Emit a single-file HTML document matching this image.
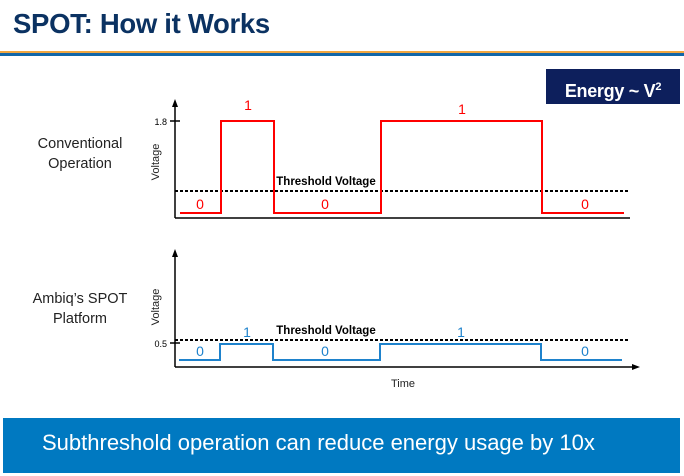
<!DOCTYPE html>
<html><head><style>
body{margin:0;width:684px;height:476px;background:#fff;overflow:hidden;position:relative;font-family:"Liberation Sans",sans-serif}
.t{position:absolute}
</style></head><body>
<div class="t" style="left:13px;top:8px;font-size:27.5px;font-weight:bold;color:#0b3262;letter-spacing:-0.3px">SPOT: How it Works</div>
<div class="t" style="left:0;top:51px;width:684px;height:2px;background:#f0a640"></div>
<div class="t" style="left:0;top:53px;width:684px;height:3px;background:#1166a8"></div>
<div class="t" style="left:546px;top:69px;width:134px;height:35px;background:#0d1f5c;color:#fff;font-size:18px;font-weight:bold;line-height:37px;text-align:center;letter-spacing:-0.3px">Energy ~ V<sup style="font-size:11px">2</sup></div>
<div class="t" style="left:18px;top:134px;width:124px;text-align:center;font-size:14.5px;color:#222;line-height:20px">Conventional<br>Operation</div>
<div class="t" style="left:18px;top:289px;width:124px;text-align:center;font-size:14.5px;color:#222;line-height:20px">Ambiq’s SPOT<br>Platform</div>
<svg class="t" style="left:0;top:0" width="684" height="476" font-family="Liberation Sans,sans-serif">
<g stroke="#000" stroke-width="1.5" fill="none">
<line x1="175" y1="106" x2="175" y2="218"/><line x1="175" y1="218" x2="630" y2="218"/>
<line x1="170" y1="121" x2="180" y2="121"/>
<line x1="175" y1="256" x2="175" y2="367"/><line x1="175" y1="367" x2="633" y2="367"/>
<line x1="170" y1="343" x2="180" y2="343"/>
<line x1="175" y1="191" x2="629" y2="191" stroke-dasharray="3,2" stroke-width="2"/>
<line x1="175" y1="340" x2="629" y2="340" stroke-dasharray="3,2" stroke-width="2"/>
</g>
<polygon points="175,99 172,107 178,107"/><polygon points="175,249 172,257 178,257"/><polygon points="640,367 632,364 632,370"/>
<text x="167" y="125" font-size="9" text-anchor="end">1.8</text>
<text x="167" y="347" font-size="9" text-anchor="end">0.5</text>
<text transform="translate(159,162) rotate(-90)" font-size="11" text-anchor="middle" fill="#222">Voltage</text>
<text transform="translate(159,307) rotate(-90)" font-size="11" text-anchor="middle" fill="#222">Voltage</text>
<text x="326" y="185" font-size="11.5" font-weight="bold" text-anchor="middle">Threshold Voltage</text>
<text x="326" y="334" font-size="11.5" font-weight="bold" text-anchor="middle">Threshold Voltage</text>
<text x="403" y="387" font-size="11" text-anchor="middle" fill="#222">Time</text>
<polyline fill="none" stroke="#f00" stroke-width="2" points="180,213 221,213 221,121 274,121 274,213 381,213 381,121 542,121 542,213 624,213"/>
<polyline fill="none" stroke="#1e82cc" stroke-width="2" points="179,360 220,360 220,344 273,344 273,360 380,360 380,344 541,344 541,360 622,360"/>
<g fill="#f00" font-size="14" text-anchor="middle"><text x="248" y="110">1</text><text x="462" y="114">1</text><text x="200" y="209">0</text><text x="325" y="209">0</text><text x="585" y="209">0</text></g>
<g fill="#1e82cc" font-size="14" text-anchor="middle"><text x="247" y="337">1</text><text x="461" y="337">1</text><text x="200" y="356">0</text><text x="325" y="356">0</text><text x="585" y="356">0</text></g>
</svg>
<div class="t" style="left:3px;top:418px;width:677px;height:55px;background:#0079c1"></div>
<div class="t" style="left:42px;top:430px;font-size:22px;color:#fff;white-space:nowrap">Subthreshold operation can reduce energy usage by 10x</div>
</body></html>
